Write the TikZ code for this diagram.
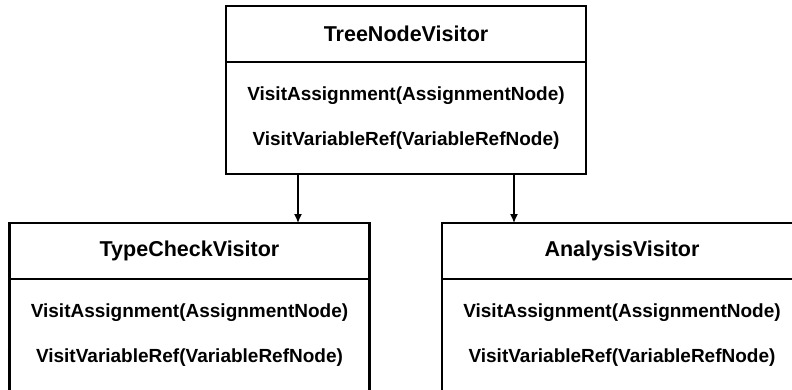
\documentclass[tikz,border=0pt]{standalone}
\usepackage{fontspec}
\setmainfont{Liberation Sans}
\usetikzlibrary{calc}
\usetikzlibrary{positioning}
\usetikzlibrary{arrows.meta}
\tikzset{
  classhead/.style={draw, line width=2.2pt, outer sep=0pt, inner sep=0pt,
    minimum width=360pt, minimum height=56pt,
    font=\bfseries\fontsize{21.5}{25}\selectfont},
  classbody/.style={draw, line width=2.2pt, outer sep=0pt, inner sep=0pt,
    minimum width=360pt, minimum height=112pt},
  method/.style={inner sep=0pt, font=\bfseries\fontsize{19}{23}\selectfont},
  inherit/.style={line width=1.4pt, -{Latex[length=9pt,width=8pt]}}
}
\newcommand{\classbox}[4]{
  \node[classhead] (#1Head) at ( #2 , #3+28 ) {#4};
  \node[classbody, below=0pt of #1Head] (#1Body) {};
  \node[method] (#1Assign) at ($(#1Body.north)+(0,34)$) {VisitAssignment(AssignmentNode)};
  \node[method] (#1VarRef) at ($(#1Body.north)+(0,79)$) {VisitVariableRef(VariableRefNode)};
}

\begin{document}
\begin{tikzpicture}[x=1pt,y=-1pt]
\useasboundingbox (0,0) rectangle (792,389);
\clip (0,0) rectangle (792,389);
% base visitor
\classbox{tnv}{406}{6}{TreeNodeVisitor}
% concrete visitors
\classbox{tcv}{189.5}{223}{TypeCheckVisitor}
\classbox{anv}{622}{223}{AnalysisVisitor}
% inheritance arrows
\coordinate (leftFoot) at ($(tnvBody.south)+(-108,0)$);
\coordinate (rightFoot) at ($(tnvBody.south)+(108,0)$);
\draw[inherit] (leftFoot) -- (leftFoot |- tcvHead.north);
\draw[inherit] (rightFoot) -- (rightFoot |- anvHead.north);
\end{tikzpicture}
\end{document}
